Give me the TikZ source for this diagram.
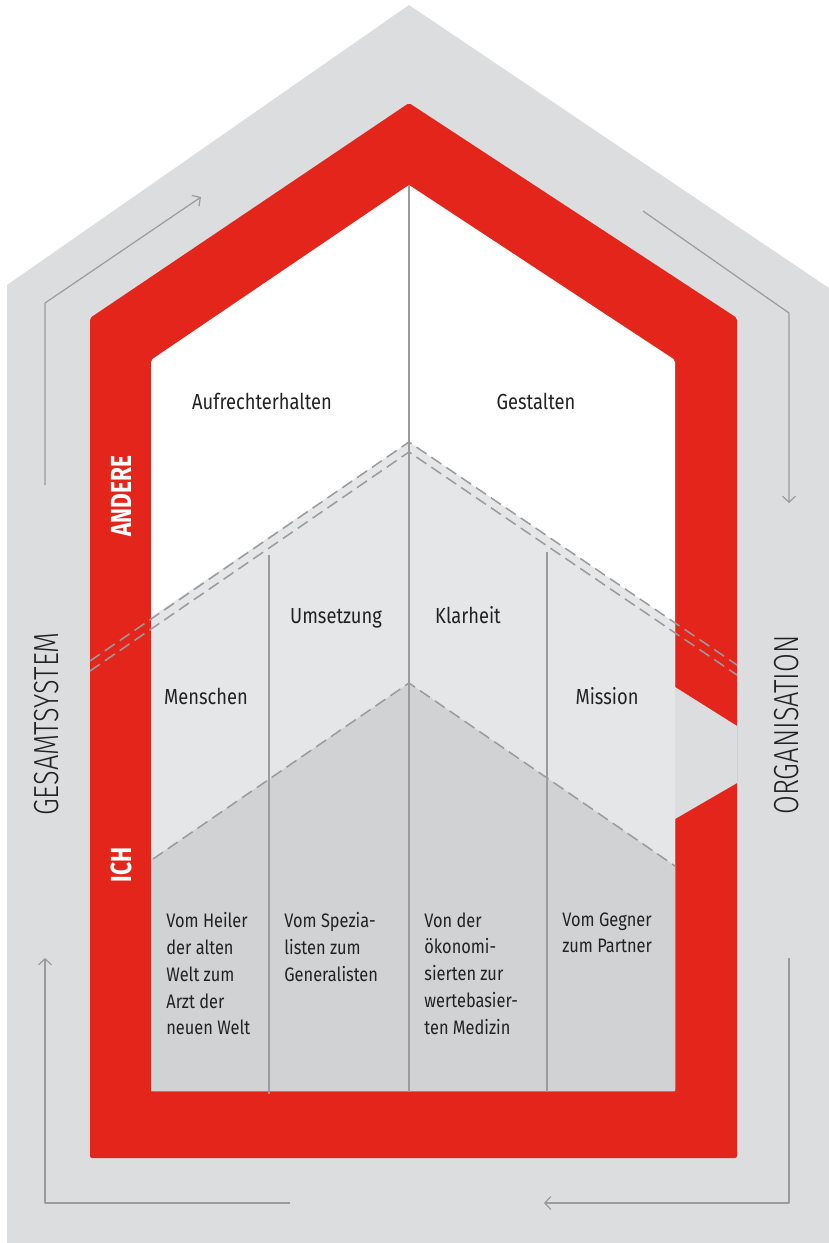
\documentclass[tikz,border=0pt]{standalone}
\usepackage{fontspec}
\setmainfont[FakeStretch=0.84]{Fira Sans}
\newfontfamily\sidefont[FakeStretch=0.78]{Fira Sans}
\newfontfamily\sidelight[FakeStretch=0.78]{Fira Sans Light}
\usetikzlibrary{arrows.meta}
\definecolor{housegray}{HTML}{DCDDDF}
\definecolor{housered}{HTML}{E4251B}
\definecolor{fieldlight}{HTML}{E5E6E8}
\definecolor{fielddark}{HTML}{D1D2D4}
\definecolor{linegray}{HTML}{9A9B9D}
\definecolor{inkgray}{HTML}{222222}

\begin{document}
\begin{tikzpicture}[x=0.5pt,y=-0.5pt,
  divider/.style={draw=linegray, line width=0.65pt},
  levelline/.style={draw=linegray, line width=0.75pt, dash pattern=on 6pt off 3pt},
  flow/.style={draw=linegray, line width=0.6pt, line join=round,
    -{Straight Barb[length=3pt,width=6.5pt]}},
  heading/.style={text=inkgray, inner sep=0pt, anchor=base,
    font=\fontsize{10.9}{13}\selectfont},
  pathtext/.style={text=inkgray, inner sep=0pt, anchor=north west, align=left,
    font=\fontsize{9.75}{13.4}\selectfont},
  sidetag/.style={text=white, inner sep=0pt, rotate=90,
    font=\sidefont\bfseries\fontsize{14.5}{16}\selectfont},
  sidename/.style={text=inkgray, inner sep=0pt, rotate=90,
    font=\sidelight\fontsize{17.4}{20}\selectfont}
]
\useasboundingbox (0,0) rectangle (829,1243);

% outer house: the whole system
\fill[housegray] (7,285) -- (409,5) -- (829,288) -- (829,1243) -- (7,1243) -- cycle;

% red band: the person
\fill[housered, rounded corners=1pt] (90,318) -- (409,103) -- (737,318) -- (737,1158) -- (90,1158) -- cycle;

% inner house
\fill[white, rounded corners=1pt] (151,360) -- (409,185) -- (675,360) -- (675,1091) -- (151,1091) -- cycle;

% middle and lower levels
\fill[fieldlight] (151,617) -- (409,442) -- (675,623) -- (675,1091) -- (151,1091) -- cycle;
\fill[fielddark] (151,860) -- (409,683) -- (675,866) -- (675,1091) -- (151,1091) -- cycle;

% opening towards the organisation
\fill[housegray] (675,687) -- (737,726) -- (737,783) -- (675,819) -- cycle;

% level borders
\coordinate (ua) at (90,661);
\coordinate (ub) at (409,442);
\coordinate (uc) at (737,665);
\coordinate (la) at (90,671);
\coordinate (lb) at (409,452);
\coordinate (lc) at (737,675);
\coordinate (da) at (153,859);
\coordinate (db) at (409,683);
\coordinate (dc) at (675,866);
\draw[levelline] (ua) -- (ub) -- (uc);
\draw[levelline] (la) -- (lb) -- (lc);
\draw[levelline] (da) -- (db) -- (dc);

% column dividers
\coordinate (c0t) at (409,185);
\coordinate (c0b) at (409,1092);
\coordinate (c1t) at (269,555);
\coordinate (c1b) at (269,1094);
\coordinate (c2t) at (547,552);
\coordinate (c2b) at (547,1092);
\draw[divider] (c0t) -- (c0b);
\draw[divider] (c1t) -- (c1b);
\draw[divider] (c2t) -- (c2b);

% level headings
\node[heading] (aufr) at (262,409) {Aufrechterhalten};
\node[heading] (gest) at (536,409) {Gestalten};
\node[heading] (umse) at (336,623) {Umsetzung};
\node[heading] (klar) at (468,623) {Klarheit};
\node[heading] (mens) at (206,704) {Menschen};
\node[heading] (miss) at (607,704) {Mission};

% paths of change
\node[pathtext] (heil) at (166,912) {Vom Heiler\\der alten\\Welt zum\\Arzt der\\neuen Welt};
\node[pathtext] (spez) at (284,912) {Vom Spezia-\\listen zum\\Generalisten};
\node[pathtext] (oeko) at (424,912) {Von der\\ökonomi-\\sierten zur\\wertebasier-\\ten Medizin};
\node[pathtext] (gegn) at (562,912) {Vom Gegner\\zum Partner};

% side labels
\node[sidetag] (andere) at (121,496) {ANDERE};
\node[sidetag] (ich) at (121,865) {ICH};
\node[sidename] (gesamt) at (47,724) {GESAMTSYSTEM};
\node[sidename] (orga) at (787,725) {ORGANISATION};

% circulation arrows
\coordinate (gl1) at (45,485);
\coordinate (gl2) at (45,303);
\coordinate (gl3) at (201,197);
\coordinate (gr1) at (643,211);
\coordinate (gr2) at (789,313);
\coordinate (gr3) at (789,503);
\coordinate (bl1) at (290,1203);
\coordinate (bl2) at (45,1203);
\coordinate (bl3) at (45,958);
\coordinate (br1) at (789,958);
\coordinate (br2) at (789,1203);
\coordinate (br3) at (544,1203);
\draw[flow] (gl1) -- (gl2) -- (gl3);
\draw[flow] (gr1) -- (gr2) -- (gr3);
\draw[flow] (bl1) -- (bl2) -- (bl3);
\draw[flow] (br1) -- (br2) -- (br3);
\end{tikzpicture}
\end{document}
